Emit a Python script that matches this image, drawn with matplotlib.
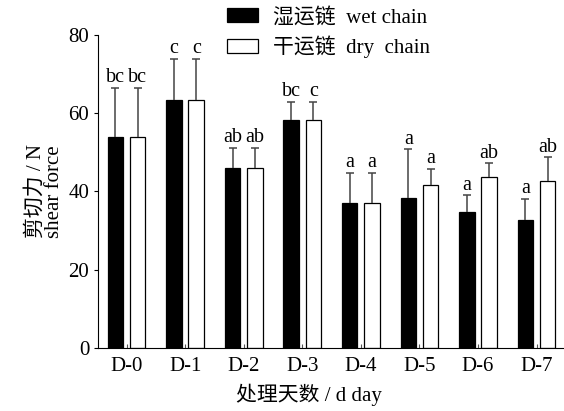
import matplotlib
matplotlib.use('Agg')
import matplotlib.pyplot as plt
from matplotlib.patches import Patch
import numpy as np

plt.rcParams['font.family'] = ['Liberation Serif', 'Noto Sans CJK SC']
plt.rcParams['axes.unicode_minus'] = False

# shear force by storage day
days = ['D-0', 'D-1', 'D-2', 'D-3', 'D-4', 'D-5', 'D-6', 'D-7']
wet_mean = [54.0, 63.4, 46.0, 58.2, 36.9, 38.4, 34.7, 32.7]
wet_err = [12.5, 10.5, 5.2, 4.7, 7.9, 12.4, 4.3, 5.4]
wet_sig = ['bc', 'c', 'ab', 'bc', 'a', 'a', 'a', 'a']
dry_mean = [54.0, 63.4, 46.0, 58.2, 36.9, 41.5, 43.7, 42.6]
dry_err = [12.5, 10.5, 5.2, 4.7, 7.9, 4.3, 3.5, 6.1]
dry_sig = ['bc', 'c', 'ab', 'c', 'a', 'a', 'ab', 'ab']

wet_label = '湿运链  wet chain'
dry_label = '干运链  dry  chain'

x = np.arange(len(days))
width = 0.265
offset = 0.19
err_color = '#444444'

fig = plt.figure(figsize=(5.64, 4.11), dpi=100)
ax = fig.add_axes([0.173, 0.154, 0.825, 0.761])


def draw_group(xpos, mean, err, sig, face):
    ax.bar(xpos, mean, width, color=face, edgecolor='black', linewidth=0.9, zorder=2)
    top = np.array(mean) + np.array(err)
    ax.vlines(xpos, mean, top, color=err_color, linewidth=1.1, zorder=3)
    ax.plot(xpos, top, linestyle='none', marker='_', markersize=6,
            markeredgewidth=1.1, color=err_color, zorder=3)
    for xi, ti, s in zip(xpos, top, sig):
        ax.annotate(s, (xi, ti), xytext=(0, 0.3), textcoords='offset points',
                    ha='center', va='bottom', fontsize=14.5)


draw_group(x - offset, wet_mean, wet_err, wet_sig, 'black')
draw_group(x + offset, dry_mean, dry_err, dry_sig, 'white')

ax.set_xlim(-0.495, 7.45)
ax.set_ylim(0, 80)
ax.set_yticks([0, 20, 40, 60, 80])
ax.set_xticks(x)
ax.set_xticklabels(days)
ax.spines['top'].set_visible(False)
ax.spines['right'].set_visible(False)
for sp in ('left', 'bottom'):
    ax.spines[sp].set_linewidth(0.8)
ax.tick_params(axis='y', direction='out', length=3, width=0.8, labelsize=15, pad=3)
ax.tick_params(axis='x', direction='in', length=3, width=0.8, color='#555555',
               labelsize=15, pad=7)

ax.set_ylabel('剪切力 / N\nshear force', fontsize=15, linespacing=0.95, labelpad=3)
ax.set_xlabel('处理天数 / d day', fontsize=15, labelpad=6)
ax.xaxis.set_label_coords(0.454, -0.115)

handles = [Patch(facecolor='black', edgecolor='black', linewidth=0.9),
           Patch(facecolor='white', edgecolor='black', linewidth=0.9)]
fig.legend(handles, [wet_label, dry_label], loc='upper left',
           bbox_to_anchor=(0.38, 1.012), frameon=False, fontsize=15,
           handlelength=1.5, handleheight=0.6, handletextpad=0.7,
           labelspacing=0.4, borderaxespad=0.2)

fig.savefig('out.png', dpi=100)
